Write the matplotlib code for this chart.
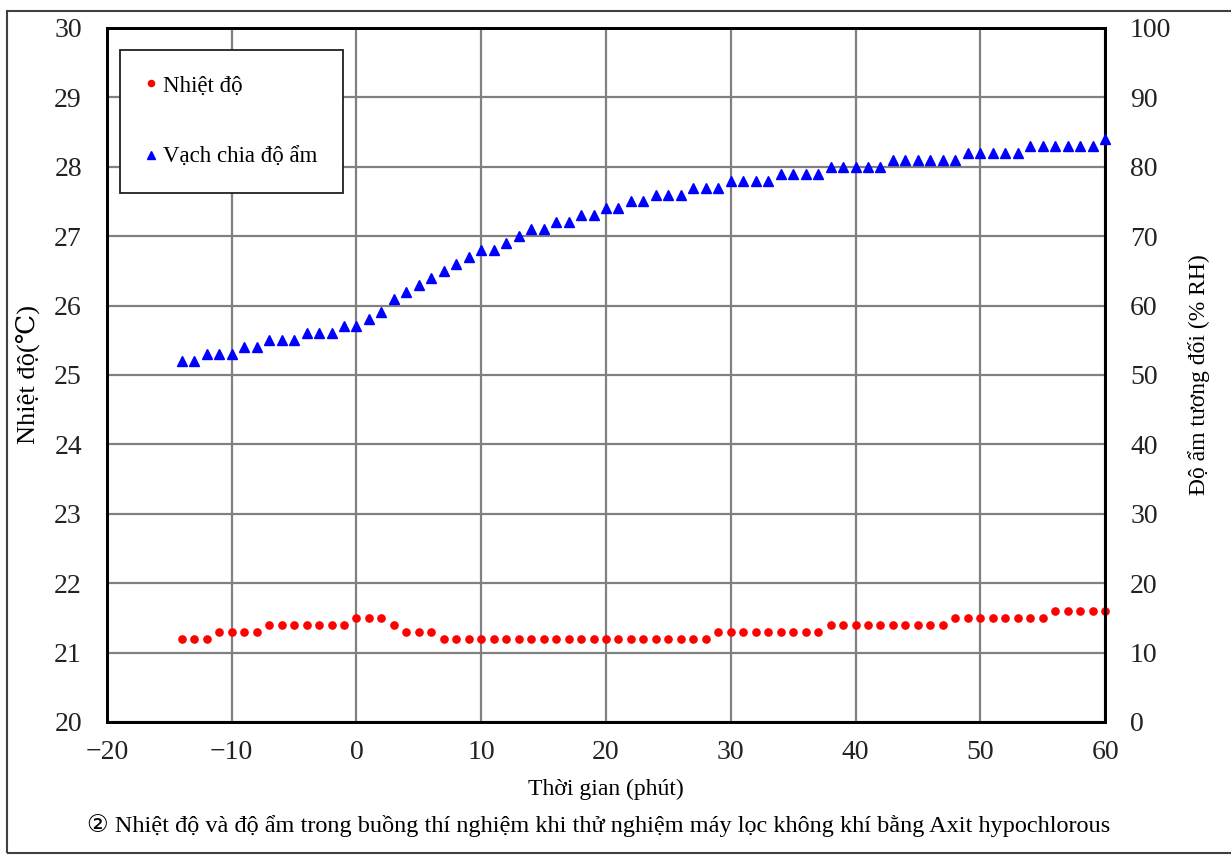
import matplotlib.pyplot as plt
from matplotlib.patches import Rectangle

# ==========================================
# DỮ LIỆU
# ==========================================
thoi_gian = [-14, -13, -12, -11, -10, -9, -8, -7, -6, -5, -4, -3, -2, -1, 0,
             1, 2, 3, 4, 5, 6, 7, 8, 9, 10, 11, 12, 13, 14, 15, 16, 17, 18, 19, 20,
             21, 22, 23, 24, 25, 26, 27, 28, 29, 30, 31, 32, 33, 34, 35, 36, 37, 38, 39, 40,
             41, 42, 43, 44, 45, 46, 47, 48, 49, 50, 51, 52, 53, 54, 55, 56, 57, 58, 59, 60]

nhiet_do = [21.2, 21.2, 21.2, 21.3, 21.3, 21.3, 21.3,
            21.4, 21.4, 21.4, 21.4, 21.4, 21.4, 21.4,
            21.5, 21.5, 21.5, 21.4, 21.3, 21.3, 21.3,
            21.2, 21.2, 21.2, 21.2, 21.2, 21.2, 21.2, 21.2, 21.2, 21.2, 21.2,
            21.2, 21.2, 21.2, 21.2, 21.2, 21.2, 21.2, 21.2, 21.2, 21.2, 21.2,
            21.3, 21.3, 21.3, 21.3, 21.3, 21.3, 21.3, 21.3, 21.3,
            21.4, 21.4, 21.4, 21.4, 21.4, 21.4, 21.4, 21.4, 21.4, 21.4,
            21.5, 21.5, 21.5, 21.5, 21.5, 21.5, 21.5, 21.5,
            21.6, 21.6, 21.6, 21.6, 21.6]

do_am = [52, 52, 53, 53, 53, 54, 54, 55, 55, 55, 56, 56, 56, 57, 57,
         58, 59, 61, 62, 63, 64, 65, 66, 67,
         68, 68, 69, 70, 71, 71, 72, 72, 73, 73, 74, 74,
         75, 75, 76, 76, 76, 77, 77, 77, 78, 78, 78, 78, 79, 79, 79, 79,
         80, 80, 80, 80, 80, 81, 81, 81, 81, 81, 81, 82, 82, 82, 82, 82,
         83, 83, 83, 83, 83, 83, 84]

x_ticks = [-20, -10, 0, 10, 20, 30, 40, 50, 60]
y_ticks_trai = [20, 21, 22, 23, 24, 25, 26, 27, 28, 29, 30]
y_ticks_phai = [0, 10, 20, 30, 40, 50, 60, 70, 80, 90, 100]

FONT = ['Liberation Serif', 'DejaVu Serif', 'DejaVu Sans', 'Noto Sans CJK JP']
plt.rcParams['font.family'] = FONT

# ==========================================
# VẼ BIỂU ĐỒ
# ==========================================
fig = plt.figure(figsize=(12.31, 8.55), dpi=100)
ax1 = fig.add_axes([0.0869, 0.1556, 0.8108, 0.8117])
ax2 = ax1.twinx()

# khung ngoài
fig.patches.append(Rectangle((7 / 1231, 2 / 855), 1.0, 842 / 855, transform=fig.transFigure,
                             fill=False, edgecolor='#404040', linewidth=1.5, clip_on=False))

l1, = ax1.plot(thoi_gian, nhiet_do, linestyle='none', marker='o', markersize=5.2,
               color='#ff0000', label='Nhiệt độ', zorder=3, clip_on=False)
l2, = ax2.plot(thoi_gian, do_am, linestyle='none', marker='^', markersize=7.5,
               color='#0000ff', label='Vạch chia độ ẩm', zorder=3, clip_on=False)

ax1.set_xlim(-20, 60)
ax1.set_ylim(20, 30)
ax2.set_ylim(0, 100)
ax1.set_xticks(x_ticks)
ax1.set_yticks(y_ticks_trai)
ax2.set_yticks(y_ticks_phai)
ax1.set_xticklabels([str(t).replace('-', '\u2212') for t in x_ticks])

ax1.grid(True, color='#808080', linewidth=1.6)
ax1.set_axisbelow(True)

for ax in (ax1, ax2):
    for s in ax.spines.values():
        s.set_linewidth(2)
        s.set_color('black')

ax1.tick_params(axis='both', length=0, labelsize=20, colors='#222222')
ax1.tick_params(axis='y', pad=18)
ax1.tick_params(axis='x', pad=13)
ax2.tick_params(axis='y', length=0, labelsize=20, colors='#222222', pad=18)

ax1.set_ylabel('Nhiệt độ(℃)', fontsize=19, labelpad=10)
ax2.set_ylabel('Độ ẩm tương đối (% RH)', fontsize=17, labelpad=12)
ax1.set_xlabel('Thời gian (phút)', fontsize=17, labelpad=10)

fig.text(599, 855 - 826, '② Nhiệt độ và độ ẩm trong buồng thí nghiệm khi thử nghiệm máy lọc không khí bằng Axit hypochlorous',
         transform=None, ha='center', va='center', fontsize=17.5)

leg = ax2.legend(handles=[l1, l2], loc='upper left', bbox_to_anchor=(0.013, 0.968),
                 borderaxespad=0, fancybox=False, framealpha=1, edgecolor='#202020',
                 fontsize=16.5, borderpad=1.1, labelspacing=2.2, handlelength=0.5,
                 handletextpad=0.3, markerscale=0.85)
leg.get_frame().set_linewidth(1.3)

fig.savefig('out.png', dpi=100)
